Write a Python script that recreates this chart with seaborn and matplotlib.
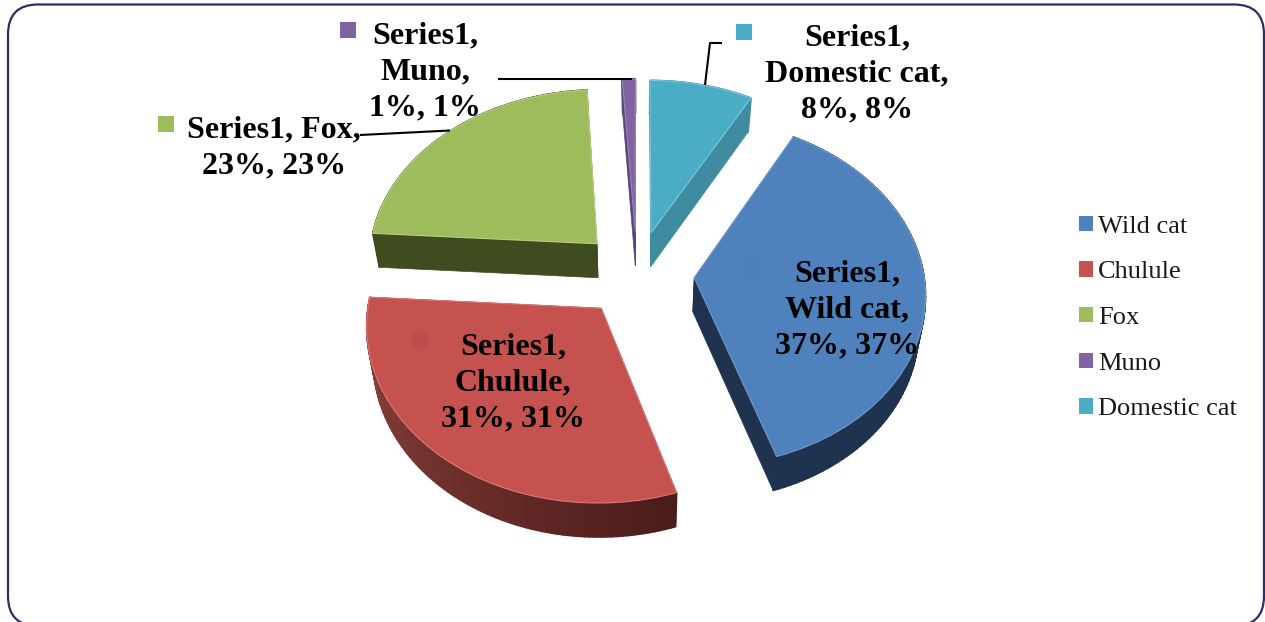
import numpy as np
import matplotlib
matplotlib.use("Agg")
import matplotlib.pyplot as plt
import matplotlib.patches as mpatches
from matplotlib.collections import PolyCollection
from matplotlib.transforms import Transform, IdentityTransform
import seaborn as sns

# Species shares in percent
categories = ["Wild cat", "Chulule", "Fox", "Muno", "Domestic cat"]
shares = [37, 31, 23, 1, 8]

# Label text broken the way each callout wraps
label_text = {
    "Wild cat": "Series1,\nWild cat,\n37%, 37%",
    "Chulule": "Series1,\nChulule,\n31%, 31%",
    "Fox": "Series1, Fox,\n23%, 23%",
    "Muno": "Series1,\nMuno,\n1%, 1%",
    "Domestic cat": "Series1,\nDomestic cat,\n8%, 8%",
}

top_colors = ["#4f81bd", "#c5524f", "#9dbc5b", "#8064a2", "#4bacc6"]
edge_colors = ["#6f9ad0", "#d87a76", "#b8d07e", "#9a82bb", "#78c6da"]
# Side wall colour at the two ends of each slice's rim (theta1, theta2)
rim_colors = [("#1f334f", "#1f334f"), ("#94443f", "#4a1c1a"), ("#3f4c20", "#3f4c20"),
              ("#5a4678", "#5a4678"), ("#3f8ca1", "#3f8ca1")]
wall_colors = ["#1f334f", "#4a1c1a", "#3f4c20", "#5a4678", "#3f8ca1"]
draw_order = [2, 3, 4, 1, 0]

W, H = 1265, 622
CX, CY = 637.0, 273.7
RX, RY = 229.5, 172.0
TILT = 0.085
DEPTH = 34.0
SHRINK = 0.975


class TiltProjection(Transform):
    """Projects the flat pie onto a tilted disc, in pixel coordinates of the axes."""
    input_dims = output_dims = 2
    has_inverse = False

    def __init__(self, lower=False):
        super().__init__()
        self.lower = lower

    def transform_non_affine(self, values):
        values = np.asarray(values, dtype=float)
        w = 1 + TILT * values[:, 1]
        sx = RX * values[:, 0] / w
        sy = CY - RY * values[:, 1] / w
        if self.lower:
            sx = sx * SHRINK
            sy = sy + DEPTH
        return np.column_stack([CX + sx, sy])


sns.set_theme(style="white")
plt.rcParams["font.family"] = ["Liberation Serif", "DejaVu Serif"]

fig = plt.figure(figsize=(W / 100, H / 100), dpi=100, facecolor="white")
ax = fig.add_axes([0, 0, 1, 1])

wedges, _ = ax.pie(shares, explode=[0.25] * len(shares), startangle=61.2,
                   counterclock=False, colors=top_colors, radius=1)
ax.set_aspect("auto")
ax.set_xlim(0, W)
ax.set_ylim(H, 0)
ax.axis("off")

upper = TiltProjection()
lower = TiltProjection(lower=True)


def side_faces(wedge, start_hex, end_hex, wall_hex, z):
    """Adds the radial walls and the outer rim between top and bottom planes."""
    cx, cy = wedge.center
    t = np.radians(np.linspace(wedge.theta1, wedge.theta2, 90))
    rim = np.column_stack([cx + wedge.r * np.cos(t), cy + wedge.r * np.sin(t)])
    apex = np.array([[cx, cy]])
    for end in (rim[:1], rim[-1:]):
        seg = np.vstack([apex, end])
        poly = np.vstack([upper.transform(seg), lower.transform(seg)[::-1]])
        ax.add_patch(mpatches.Polygon(poly, closed=True, facecolor=wall_hex,
                                      edgecolor=wall_hex, lw=0.5, zorder=z))
    a, b = upper.transform(rim), lower.transform(rim)
    quads = [[a[i], a[i + 1], b[i + 1], b[i]] for i in range(len(rim) - 1)]
    c0 = np.array(matplotlib.colors.to_rgb(start_hex))
    c1 = np.array(matplotlib.colors.to_rgb(end_hex))
    mix = np.linspace(0, 1, len(quads))[:, None]
    shades = c0 * (1 - mix) + c1 * mix
    ax.add_collection(PolyCollection(quads, facecolors=shades, edgecolors=shades,
                                     linewidths=1.2, zorder=z + 0.1))


for rank, i in enumerate(draw_order):
    z = 2 + rank
    side_faces(wedges[i], rim_colors[i][0], rim_colors[i][1], wall_colors[i], z)
    wedges[i].set_transform(upper + ax.transData)
    wedges[i].set_edgecolor(edge_colors[i])
    wedges[i].set_linewidth(0.8)
    wedges[i].set_zorder(z + 0.5)

# Rounded outer frame, laid out in figure pixels and running past the lower edge
fig.add_artist(mpatches.FancyBboxPatch((8 + 30, H - 626 + 30), 1256 - 60, 621.5 - 60,
                                       boxstyle="round,pad=30,rounding_size=30",
                                       transform=IdentityTransform(),
                                       facecolor="none", edgecolor="#2b2f63", lw=1.6))

# Leader lines
leader_kw = dict(color="black", lw=1.5, zorder=9, solid_capstyle="butt")
ax.plot([498, 632], [78.5, 78.5], **leader_kw)
ax.plot([360, 450], [135, 130.5], **leader_kw)
ax.plot([722, 710, 705], [43, 43, 85], **leader_kw)

# Callout text and its colour keys
label_pos = {"Wild cat": (847, 310), "Chulule": (513, 383), "Fox": (274, 148),
             "Muno": (425, 72), "Domestic cat": (857, 74)}
key_pos = {"Wild cat": (745, 260), "Chulule": (412, 332), "Fox": (158, 116),
           "Muno": (340, 22), "Domestic cat": (736, 24)}
key_shades = {"Wild cat": "#4e7fba", "Chulule": "#bd4e4b", "Fox": top_colors[2],
              "Muno": top_colors[3], "Domestic cat": top_colors[4]}
for name in categories:
    x, y = label_pos[name]
    ax.text(x, y, label_text[name], ha="center", va="center", ma="center",
            fontsize=23, fontweight="bold", color="black", linespacing=1.31, zorder=10)
    kx, ky = key_pos[name]
    ax.add_patch(mpatches.Rectangle((kx, ky), 16, 16, facecolor=key_shades[name],
                                    edgecolor="none", zorder=9))

handles = [mpatches.Patch(facecolor=c, edgecolor="none") for c in top_colors]
ax.legend(handles, categories, loc="center left", bbox_to_anchor=(1079, 318),
          bbox_transform=ax.transData, frameon=False, fontsize=19, borderpad=0,
          borderaxespad=0, handlelength=0.53, handleheight=0.53, handletextpad=0.2,
          labelspacing=0.89, labelcolor="#1a1a1a")

fig.savefig("out.png", dpi=100, facecolor="white")
